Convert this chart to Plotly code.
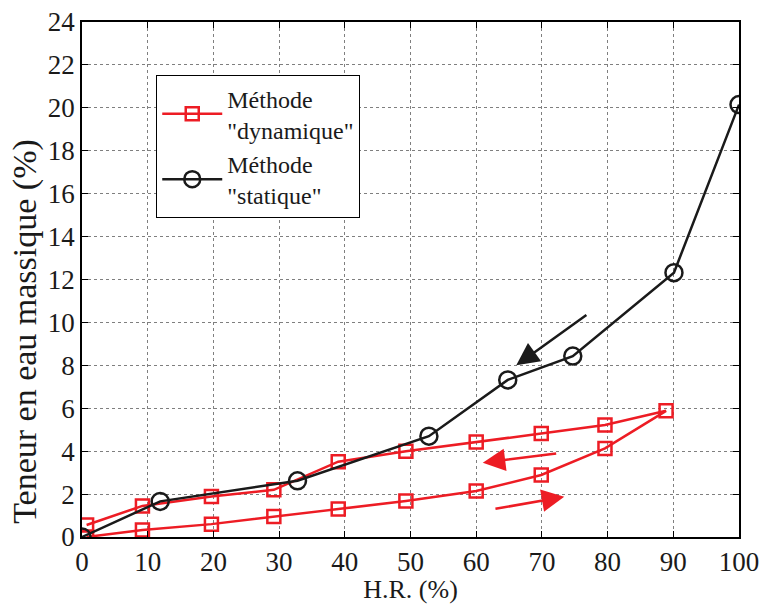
import plotly.graph_objects as go

# Data
dyn_hr = [0.7, 9.2, 19.7, 29.2, 39, 49.3, 60, 69.9, 79.6, 88.9, 79.6, 69.9, 60, 49.3, 39, 29.2, 19.7, 9.2, 0.7]
dyn_w = [0.0, 0.33, 0.6, 0.96, 1.3, 1.68, 2.14, 2.89, 4.13, 5.88, 5.22, 4.82, 4.43, 4.0, 3.51, 2.2, 1.89, 1.45, 0.56]
stat_hr = [0, 11.9, 32.8, 52.8, 64.8, 74.7, 90.1, 100]
stat_w = [0, 1.66, 2.62, 4.7, 7.32, 8.43, 12.32, 20.15]
x_ticks = list(range(0, 101, 10))
y_ticks = list(range(0, 25, 2))

RED = "#ed1c24"
BLK = "#1a1a1a"
FONT = "Liberation Serif"

fig = go.Figure()
fig.add_trace(go.Scatter(x=dyn_hr, y=dyn_w, mode="lines+markers",
                         name='Méthode<br>"dynamique"',
                         line=dict(color=RED, width=2.5),
                         marker=dict(symbol="square-open", size=13, color=RED,
                                     line=dict(width=2.5, color=RED))))
fig.add_trace(go.Scatter(x=stat_hr, y=stat_w, mode="lines+markers",
                         name='Méthode<br>"statique"',
                         line=dict(color=BLK, width=2.5),
                         marker=dict(symbol="circle-open", size=17, color=BLK,
                                     line=dict(width=2.5, color=BLK))))

arrows = [
    (77, 10.4, 66.1, 8.0, BLK),
    (72.4, 3.9, 61, 3.46, RED),
    (62.7, 1.3, 73.4, 1.88, RED),
]
for x0, y0, x1, y1, c in arrows:
    fig.add_annotation(x=x1, y=y1, ax=x0, ay=y0, xref="x", yref="y",
                       axref="x", ayref="y", text="", showarrow=True,
                       arrowhead=2, arrowsize=1.8, arrowwidth=2.5, arrowcolor=c)

axis_common = dict(showline=True, linecolor="black", linewidth=1.5, mirror="ticks",
                   ticks="inside", ticklen=6, tickcolor="black", automargin=False,
                   showgrid=True, gridcolor="#7f7f7f", gridwidth=1, griddash="dot",
                   zeroline=False, tickfont=dict(family=FONT, size=27, color=BLK))

fig.update_xaxes(range=[0, 100], tickvals=x_ticks,
                 title=dict(text="H.R. (%)", font=dict(family=FONT, size=26, color=BLK),
                            standoff=5),
                 **axis_common)
fig.update_yaxes(range=[0, 24], tickvals=y_ticks, title=dict(text=""), **axis_common)

fig.add_annotation(text="Teneur en eau massique (%)", textangle=-90,
                   xref="paper", yref="paper", x=-0.087, y=0.40,
                   xanchor="center", yanchor="middle", showarrow=False,
                   font=dict(family=FONT, size=34, color=BLK))

fig.update_layout(width=761, height=604,
                  margin=dict(l=82, r=22, t=22, b=67),
                  paper_bgcolor="white", plot_bgcolor="white",
                  legend=dict(x=0.113, y=0.897, xanchor="left", yanchor="top",
                              bgcolor="white", bordercolor="black", borderwidth=1,
                              font=dict(family=FONT, size=24, color=BLK),
                              itemwidth=60, tracegroupgap=0),
                  showlegend=True)

fig.write_html("out.html", config={"displayModeBar": False},
               post_script="document.body.style.margin='0';")
